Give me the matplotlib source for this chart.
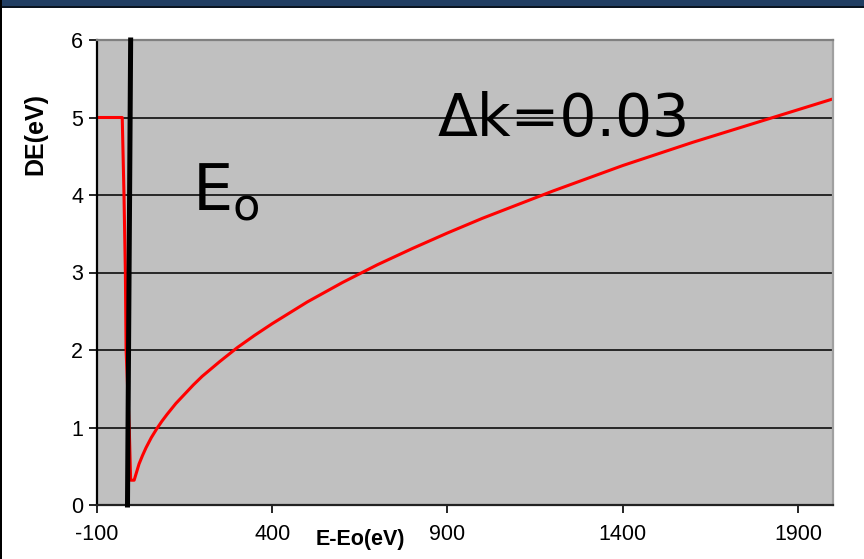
import numpy as np
from matplotlib import pyplot as plt
from matplotlib.patches import Rectangle

# energy above edge (eV) and energy resolution DE (eV)
E = [-100, -28, -23, -19, -17, -8, -4, 6, 12, 20, 30, 40, 55, 70, 85, 100,
     125, 150, 175, 200, 250, 300, 350, 400, 500, 600, 700, 800, 900, 1000,
     1200, 1400, 1600, 1800, 2000]
DE = [5, 5, 4, 3, 2, 1, 0.32, 0.32, 0.41, 0.53, 0.64, 0.74, 0.87, 0.98, 1.08,
      1.17, 1.31, 1.43, 1.55, 1.66, 1.85, 2.03, 2.19, 2.34, 2.62, 2.87, 3.10,
      3.31, 3.51, 3.70, 4.05, 4.38, 4.68, 4.96, 5.24]

# the hand-drawn E0 marker line
e0_x = [-13, -4]
e0_y = [0, 6]

xticks = [-100, 400, 900, 1400, 1900]
yticks = [0, 1, 2, 3, 4, 5, 6]

plt.rcParams['font.family'] = ['Liberation Sans', 'DejaVu Sans']
plt.rcParams['axes.unicode_minus'] = False

fig = plt.figure(figsize=(8.64, 5.59), dpi=100)
fig.patch.set_facecolor("white")

# slide frame: dark blue band on top, thin black edge on the left
fig.patches.append(Rectangle((0, 1 - 6/559), 1, 6/559, transform=fig.transFigure,
                             facecolor="#213e63", edgecolor="none"))
fig.patches.append(Rectangle((0, 1 - 8/559), 1, 2/559, transform=fig.transFigure,
                             facecolor="#0a1420", edgecolor="none"))
fig.patches.append(Rectangle((0, 0), 2/864, 1, transform=fig.transFigure,
                             facecolor="black", edgecolor="none"))

ax = fig.add_axes([97/864, 1 - 505/559, (833 - 97)/864, (505 - 40)/559])
ax.set_facecolor("#c0c0c0")

for y in yticks[1:-1]:
    ax.axhline(y, color="#1a1a1a", lw=1.3, zorder=1)

ax.plot(E, DE, color="red", lw=2.2, zorder=2)
ax.plot(e0_x, e0_y, color="black", lw=3.6, zorder=3, clip_on=False)

ax.set_xlim(-100, 2000)
ax.set_ylim(0, 6)
ax.set_xticks(xticks)
ax.set_yticks(yticks)
ax.tick_params(axis="both", labelsize=15.5, length=6, width=1.2, direction="out")
ax.tick_params(axis="x", pad=8)
ax.tick_params(axis="y", pad=4)

ax.spines["left"].set_color("black")
ax.spines["bottom"].set_color("#222222")
ax.spines["top"].set_color("#808080")
ax.spines["right"].set_color("#a0a0a0")
for s in ax.spines.values():
    s.set_linewidth(1.6)

ax.text(871, 4.76, "Δk=0.03", fontsize=42, family="DejaVu Sans",
        va="baseline", ha="left", zorder=4)
ax.text(171, 3.81, r"E$_{\rm o}$", fontsize=46, family="DejaVu Sans",
        va="baseline", ha="left", zorder=4)

fig.text(360/864, 1 - 540/559, "E-Eo(eV)", fontsize=15.5, fontweight="bold",
         ha="center", va="center")
fig.text(35/864, 1 - 134/559, "DE(eV)", fontsize=18, fontweight="bold",
         ha="center", va="center", rotation=90)

plt.savefig("out.png", dpi=100)
